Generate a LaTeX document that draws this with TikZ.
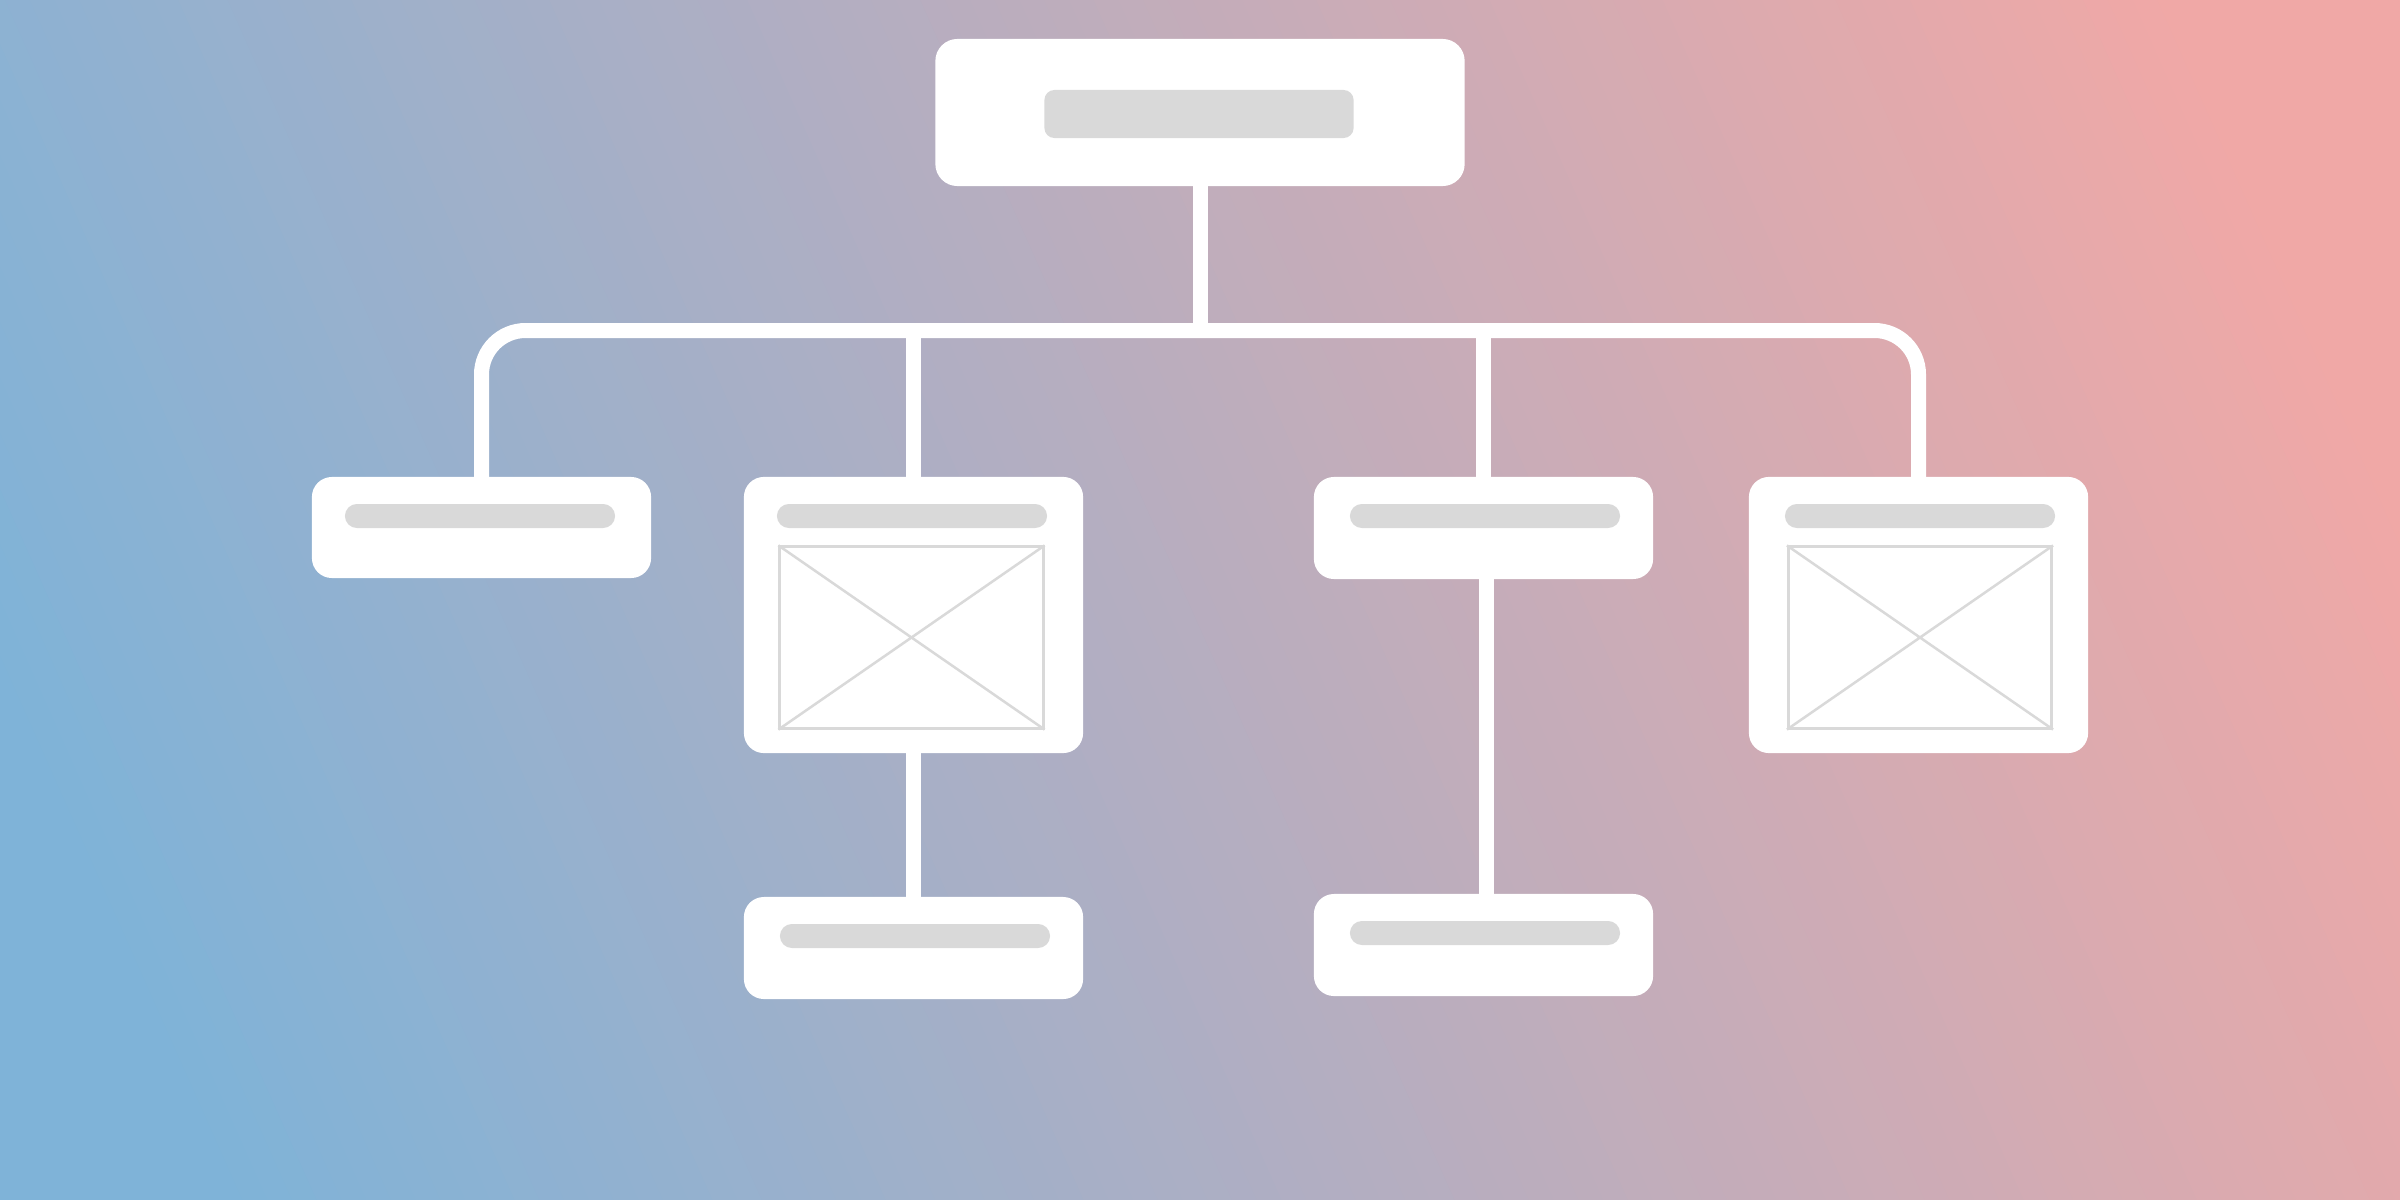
\documentclass[tikz,border=0pt]{standalone}
\usepackage{tikz}
\usetikzlibrary{backgrounds}
\definecolor{bgA}{HTML}{7FB3D8}
\definecolor{bgB}{HTML}{F0A8A6}
\definecolor{barc}{HTML}{D9D9D9}
\tikzset{
  card/.style={fill=white, rounded corners=0.2cm, inner sep=0pt, minimum width=3.39cm},
  bar/.style={fill=barc, rounded corners=0.12cm, inner sep=0pt, minimum width=2.7cm, minimum height=0.24cm},
  imgbox/.style={draw=barc, line width=0.03cm, inner sep=0pt, minimum width=2.63cm, minimum height=1.81cm},
  imgline/.style={draw=barc, line width=0.025cm},
  conn/.style={draw=white, line width=0.15cm, shorten <=-0.04cm, shorten >=-0.04cm},
}
\begin{document}
\begin{tikzpicture}[x=0.01cm,y=-0.01cm]
\useasboundingbox (0,0) rectangle (2400,1200);

% cards
\node[card, minimum width=5.29cm, minimum height=1.47cm, rounded corners=0.22cm] (top) at (1200,112.5) {};
\node[bar, minimum width=3.09cm, minimum height=0.48cm, rounded corners=0.1cm] (topbar) at (1199,114) {};

\node[card, minimum height=1.01cm] (b1) at (481.5,527.5) {};
\node[card, minimum height=2.76cm] (b2) at (913.5,615) {};
\node[card, minimum height=1.02cm] (b3) at (1483.5,528) {};
\node[card, minimum height=2.76cm] (b4) at (1918.5,615) {};
\node[card, minimum height=1.02cm] (b5) at (913.5,948) {};
\node[card, minimum height=1.02cm] (b6) at (1483.5,945) {};

\node[bar] (b1bar) at (480,516) {};
\node[bar] (b2bar) at (912,516) {};
\node[bar] (b3bar) at (1485,516) {};
\node[bar] (b4bar) at (1920,516) {};
\node[bar] (b5bar) at (915,936) {};
\node[bar] (b6bar) at (1485,933) {};

\node[imgbox] (b2img) at (911.5,637.5) {};
\draw[imgline] (b2img.north west) -- (b2img.south east) (b2img.north east) -- (b2img.south west);
\node[imgbox] (b4img) at (1920,637.5) {};
\draw[imgline] (b4img.north west) -- (b4img.south east) (b4img.north east) -- (b4img.south west);

\begin{pgfonlayer}{background}
  % background gradient
  \begin{scope}
    \clip (0,0) rectangle (2400,1200);
    \begin{scope}[shift={(1200,600)}, rotate=24]
      \fill[bgA] (-4000,-3000) rectangle (4000,3000);
      \foreach \i in {1,...,100}{
        \fill[bgB!\i!bgA] (-1130+22.6*\i-11.3,-3000) rectangle (4000,3000);
      }
    \end{scope}
  \end{scope}
  % connectors (under the cards)
  \coordinate (bus) at (1200,330.5);
  \draw[conn] (top.south) -- (top.south |- bus);
  \draw[conn, rounded corners=0.44cm] (b1.north) -- (b1.north |- bus) -- (b4.north |- bus) -- (b4.north);
  \draw[conn] (b2.north |- bus) -- (b2.north);
  \draw[conn] (b3.north |- bus) -- (b3.north);
  \draw[conn] (b2.south) -- (b5.north);
  \draw[conn] ([xshift=0.03cm]b3.south) -- ([xshift=0.03cm]b6.north);
\end{pgfonlayer}
\end{tikzpicture}
\end{document}
